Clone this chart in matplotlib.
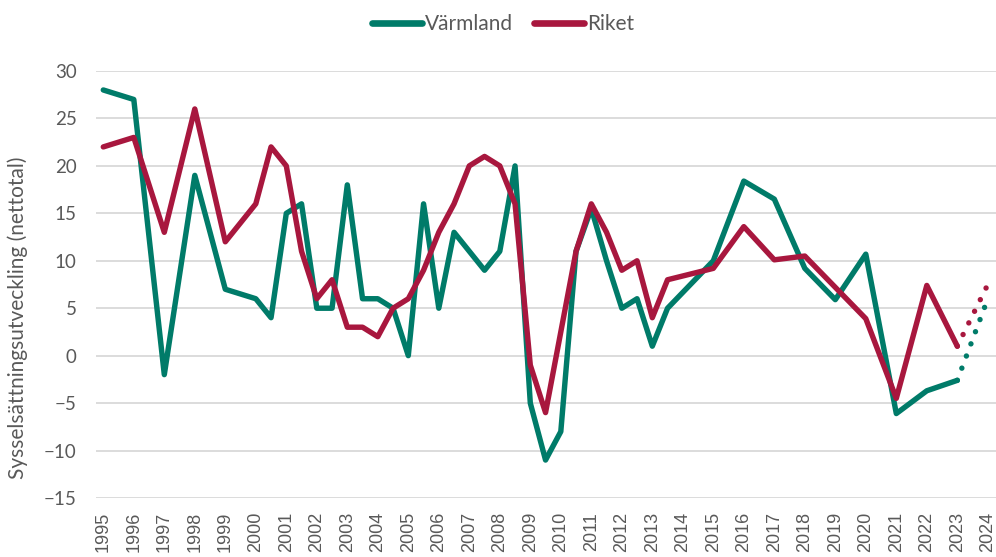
import numpy as np
import matplotlib
matplotlib.use("Agg")
import matplotlib.pyplot as plt

# data (half-year points 2000-2013)
ar_varmland = [1995, 1996, 1997, 1998, 1999, 2000, 2000.5, 2001, 2001.5, 2002, 2002.5,
               2003, 2003.5, 2004, 2004.5, 2005, 2005.5, 2006, 2006.5, 2007.5, 2008,
               2008.5, 2009, 2009.5, 2010, 2010.5, 2011, 2011.5, 2012, 2012.5, 2013,
               2013.5, 2015, 2016, 2017, 2018, 2019, 2020, 2021, 2022, 2023]
varmland = [28, 27, -2, 19, 7, 6, 4, 15, 16, 5, 5,
            18, 6, 6, 5, 0, 16, 5, 13, 9, 11,
            20, -5, -11, -8, 11, 15.5, 10, 5, 6, 1,
            5, 10, 18.4, 16.5, 9.2, 5.9, 10.7, -6.1, -3.7, -2.6]

ar_riket = [1995, 1996, 1997, 1998, 1999, 2000, 2000.5, 2001, 2001.5, 2002, 2002.5,
            2003, 2003.5, 2004, 2004.5, 2005, 2005.5, 2006, 2006.5, 2007, 2007.5,
            2008, 2008.5, 2009, 2009.5, 2010.5, 2011, 2011.5, 2012, 2012.5, 2013,
            2013.5, 2015, 2016, 2017, 2018, 2019, 2020, 2021, 2022, 2023]
riket = [22, 23, 13, 26, 12, 16, 22, 20, 11, 6, 8,
         3, 3, 2, 5, 6, 9, 13, 16, 20, 21,
         20, 16, -1, -6, 11, 16, 13, 9, 10, 4,
         8, 9.2, 13.6, 10.1, 10.5, 7.2, 3.9, -4.5, 7.4, 1.0]

# prognos (prickad)
ar_prognos = [2023, 2024]
varmland_prognos = [-2.6, 6.0]
riket_prognos = [1.0, 7.5]

ar_etiketter = list(range(1995, 2025))

gron = '#007B69'
rod = '#A8173E'
textfarg = '#595959'
lw = 3.9
prick = (0, (0.01, 9.3 / lw))

fig = plt.figure(figsize=(9.96, 5.57), dpi=100)
ax = fig.add_axes([96/996, 1 - 498/557, 1 - 96/996, (498 - 71)/557])

ax.plot(ar_varmland, varmland, color=gron, lw=lw, solid_capstyle='round',
        solid_joinstyle='round', label='Värmland', zorder=3)
ax.plot(ar_riket, riket, color=rod, lw=lw, solid_capstyle='round',
        solid_joinstyle='round', label='Riket', zorder=4)
ax.plot(ar_prognos, varmland_prognos, color=gron, lw=lw, dash_capstyle='round',
        linestyle=prick, zorder=3)
ax.plot(ar_prognos, riket_prognos, color=rod, lw=lw, dash_capstyle='round',
        linestyle=prick, zorder=4)

ax.set_ylim(-15, 30)
ax.set_xlim(1995 - 7.3/30.52, 2024 + 8.2/30.52)
ax.set_yticks(range(-15, 31, 5))
ax.set_xticks(ar_etiketter)
ax.set_xticklabels([str(a) for a in ar_etiketter], rotation=90, fontsize=13,
                   family='Liberation Sans', color=textfarg, va='top')
for lab in ax.get_yticklabels():
    lab.set_family('Lato')
    lab.set_fontsize(13.5)
    lab.set_color(textfarg)
ax.tick_params(axis='both', length=0)
ax.tick_params(axis='y', pad=14)
ax.tick_params(axis='x', pad=10)
ax.grid(axis='y', color='#d9d9d9', lw=1.3)
ax.set_axisbelow(True)
for s in ax.spines.values():
    s.set_visible(False)

fig.text(18/996, 1 - 318/557, 'Sysselsättningsutveckling (nettotal)', rotation=90,
         ha='center', va='center', fontsize=15, family='Lato', color=textfarg)

leg = fig.legend(loc='center', bbox_to_anchor=(503/996, 1 - 24/557), ncol=2,
                 frameon=False, handlelength=2.4, handletextpad=0.15,
                 columnspacing=1.0, prop={'family': 'Lato', 'size': 15})
for t in leg.get_texts():
    t.set_color(textfarg)
for h in leg.get_lines():
    h.set_linewidth(4.8)
    h.set_solid_capstyle('round')

fig.savefig('out.png', dpi=100)
